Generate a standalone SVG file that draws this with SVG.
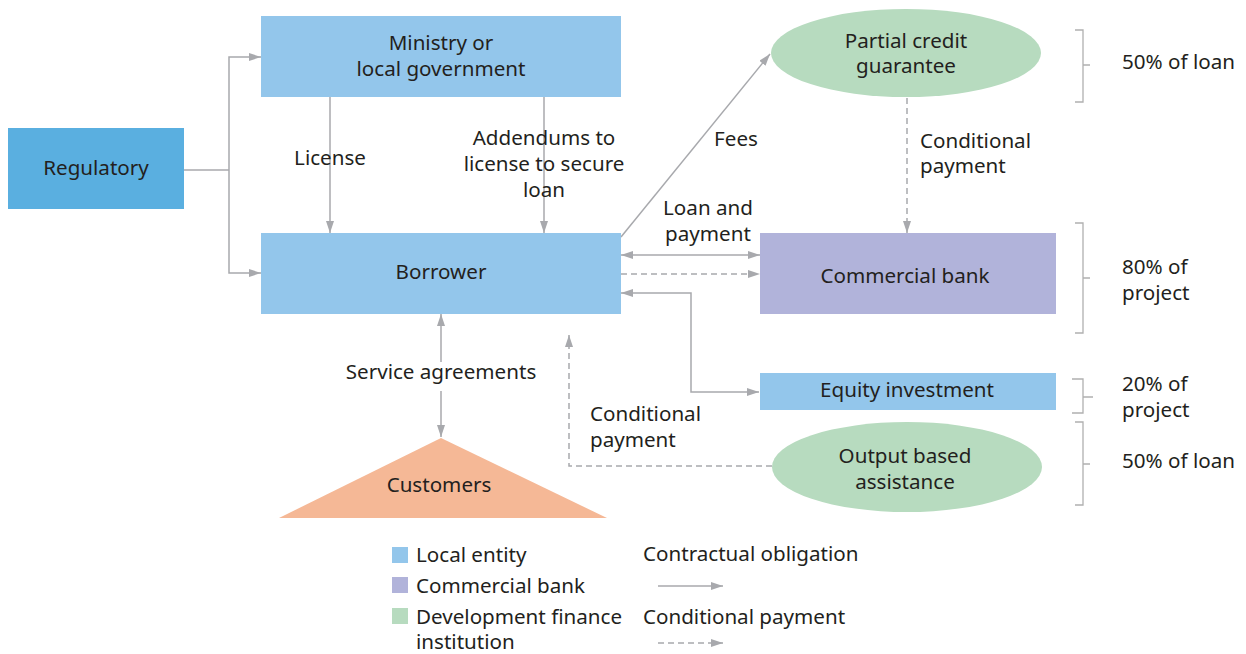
<svg xmlns="http://www.w3.org/2000/svg" width="1246" height="654" viewBox="0 0 1246 654">
<style>
text{font-family:"Noto Sans","Open Sans",sans-serif;font-size:20.6px;fill:#231f20}
.c{text-anchor:middle}
.ln{fill:none;stroke:#a8a9ad;stroke-width:1.5}
.d{stroke-dasharray:6,4}
.br{fill:none;stroke:#b0b0b0;stroke-width:1.3}
.loc{fill:#93c6eb}
.bank{fill:#b1b3da}
.dfi{fill:#b7dbbf}
</style>
<defs>
<marker id="ah" viewBox="0 0 12 8" refX="12" refY="4" markerWidth="12" markerHeight="8" markerUnits="userSpaceOnUse" orient="auto-start-reverse">
<path d="M0,0 L12,4 L0,8 Z" fill="#a8a9ad"/>
</marker>
</defs>
<rect width="1246" height="654" fill="#fff"/>

<g id="connectors">
<path class="ln" d="M184,170 H229"/>
<path class="ln" d="M261,57 H229 V273 H261" marker-start="url(#ah)" marker-end="url(#ah)"/>
<path class="ln" d="M330,97 V233" marker-end="url(#ah)"/>
<path class="ln" d="M544,97 V233" marker-end="url(#ah)"/>
<path class="ln" d="M621,237 L770,54" marker-end="url(#ah)"/>
<path class="ln" d="M621,255 H760" marker-start="url(#ah)" marker-end="url(#ah)"/>
<path class="ln d" d="M621,274 H760" marker-end="url(#ah)"/>
<path class="ln" d="M621,293 H691 V392 H759" marker-start="url(#ah)" marker-end="url(#ah)"/>
<path class="ln d" d="M907,98 V233" marker-end="url(#ah)"/>
<path class="ln d" d="M772,466 H569 V335" marker-end="url(#ah)"/>
<path class="ln" d="M441,362 V314" marker-end="url(#ah)"/>
<path class="ln" d="M441,391 V437" marker-end="url(#ah)"/>
</g>

<g id="regulatory">
<rect x="8" y="128" width="176" height="81" fill="#5aafe0"/>
<text class="c" x="96" y="175">Regulatory</text>
</g>
<g id="ministry">
<rect class="loc" x="261" y="16" width="360" height="81"/>
<text class="c" x="441" y="50">Ministry or</text>
<text class="c" x="441" y="76">local government</text>
</g>
<g id="borrower">
<rect class="loc" x="261" y="233" width="360" height="81"/>
<text class="c" x="441" y="279">Borrower</text>
</g>
<g id="pcg">
<ellipse class="dfi" cx="906" cy="53" rx="135" ry="44"/>
<text class="c" x="906" y="48">Partial credit</text>
<text class="c" x="906" y="73">guarantee</text>
</g>
<g id="bank">
<rect class="bank" x="760" y="233" width="296" height="81"/>
<text class="c" x="905" y="283">Commercial bank</text>
</g>
<g id="equity">
<rect class="loc" x="760" y="373" width="296" height="37"/>
<text class="c" x="907" y="397">Equity investment</text>
</g>
<g id="oba">
<ellipse class="dfi" cx="907" cy="467" rx="135" ry="45"/>
<text class="c" x="905" y="463">Output based</text>
<text class="c" x="905" y="489">assistance</text>
</g>
<g id="customers">
<polygon points="441,438 607,518 279,518" fill="#f5b896"/>
<text class="c" x="439" y="492">Customers</text>
</g>

<g id="labels">
<text class="c" x="330" y="165">License</text>
<text class="c" x="544" y="145">Addendums to</text>
<text class="c" x="544" y="171">license to secure</text>
<text class="c" x="544" y="197">loan</text>
<text class="c" x="736" y="146">Fees</text>
<text class="c" x="708" y="215">Loan and</text>
<text class="c" x="708" y="241">payment</text>
<text x="920" y="148">Conditional</text>
<text x="920" y="173">payment</text>
<text class="c" x="441" y="379">Service agreements</text>
<text x="590" y="421">Conditional</text>
<text x="590" y="447">payment</text>
</g>

<g id="brackets">
<path class="br" d="M1075,30 H1083 V102 H1075 M1083,65 H1090"/>
<path class="br" d="M1075,223 H1083 V333 H1075 M1083,278 H1090"/>
<path class="br" d="M1072,379 H1083 V413 H1072 M1083,397 H1093"/>
<path class="br" d="M1075,422 H1083 V505 H1075 M1083,464 H1090"/>
<text x="1122" y="69">50% of loan</text>
<text x="1122" y="274">80% of</text>
<text x="1122" y="300">project</text>
<text x="1122" y="391">20% of</text>
<text x="1122" y="417">project</text>
<text x="1122" y="468">50% of loan</text>
</g>

<g id="legend">
<rect class="loc" x="392" y="547" width="16" height="16"/>
<rect class="bank" x="392" y="577" width="16" height="16"/>
<rect class="dfi" x="392" y="608" width="16" height="16"/>
<text x="416" y="562">Local entity</text>
<text x="416" y="593">Commercial bank</text>
<text x="416" y="624">Development finance</text>
<text x="416" y="649">institution</text>
<text x="643" y="561">Contractual obligation</text>
<text x="643" y="624">Conditional payment</text>
<path class="ln" d="M658,586 H723" marker-end="url(#ah)"/>
<path class="ln d" d="M658,643 H723" marker-end="url(#ah)"/>
</g>
</svg>
